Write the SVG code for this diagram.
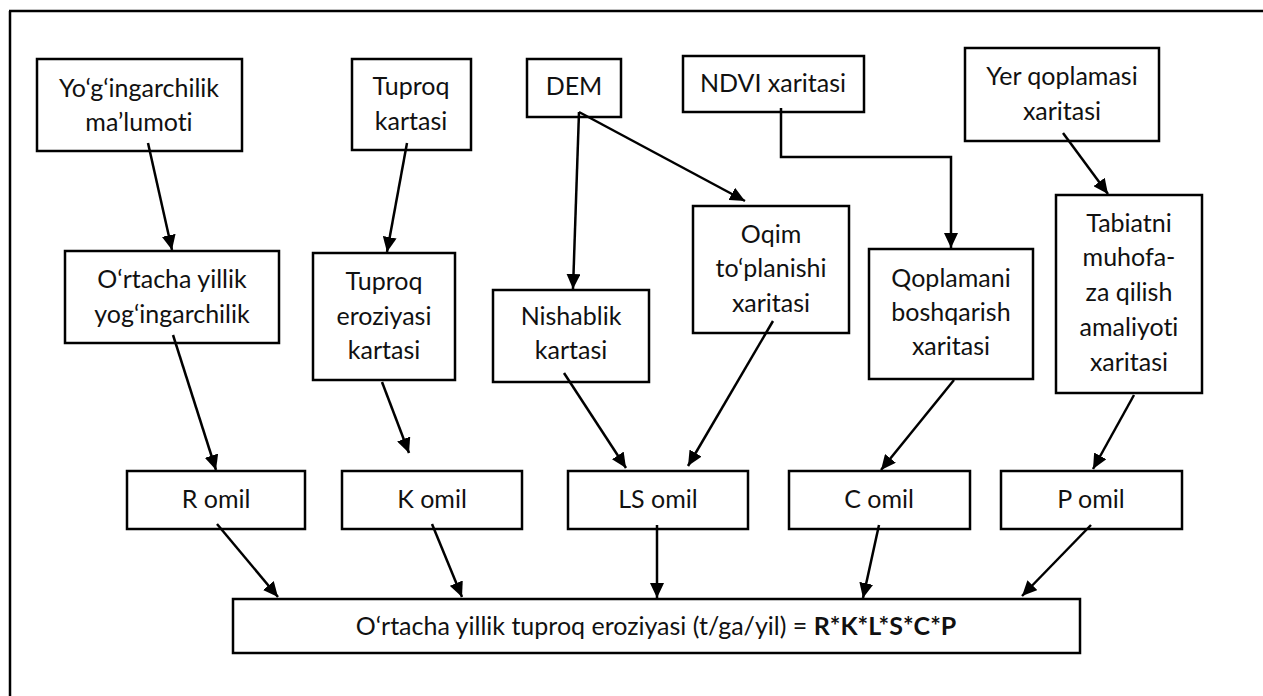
<svg xmlns="http://www.w3.org/2000/svg" width="1263" height="696" viewBox="0 0 1263 696">
<defs>
<marker id="ah" markerUnits="userSpaceOnUse" markerWidth="16" markerHeight="14" refX="15" refY="7" orient="auto">
<path d="M0,0 L15,7 L0,14 z" fill="#000"/>
</marker>
<style>
rect.b{fill:#fff;stroke:#000;stroke-width:2.5}
text{font-family:Lato,"Open Sans","Liberation Sans",sans-serif;font-size:25px;fill:#111;text-anchor:middle;font-variant-ligatures:none;font-feature-settings:"liga" 0}
.c path,.c line,.c polyline{stroke:#000;stroke-width:2.5;fill:none;marker-end:url(#ah)}
</style>
</defs>
<rect width="1263" height="696" fill="#fff"/>
<g id="frame" stroke="#000" stroke-width="2.5" fill="none">
<line x1="9" y1="11" x2="1263" y2="11"/>
<line x1="10" y1="11" x2="10" y2="696"/>
</g>
<g id="n-yog"><rect class="b" x="37" y="59" width="205" height="92"/><text x="139" y="97">Yo‘g‘ingarchilik</text><text x="139" y="131">ma’lumoti</text></g>
<g id="n-tuproq"><rect class="b" x="352" y="59" width="119" height="91"/><text x="411" y="95">Tuproq</text><text x="411" y="130">kartasi</text></g>
<g id="n-dem"><rect class="b" x="527" y="59" width="94" height="58"/><text x="574" y="95">DEM</text></g>
<g id="n-ndvi"><rect class="b" x="683" y="56" width="181" height="56"/><text x="773" y="92">NDVI xaritasi</text></g>
<g id="n-yer"><rect class="b" x="965" y="48" width="194" height="93"/><text x="1062" y="85">Yer qoplamasi</text><text x="1062" y="120">xaritasi</text></g>
<g id="n-ortacha"><rect class="b" x="65" y="251" width="214" height="92"/><text x="172" y="288">O‘rtacha yillik</text><text x="172" y="323">yog‘ingarchilik</text></g>
<g id="n-erozkarta"><rect class="b" x="313" y="253" width="142" height="127"/><text x="384" y="290">Tuproq</text><text x="384" y="325">eroziyasi</text><text x="384" y="359">kartasi</text></g>
<g id="n-nishab"><rect class="b" x="493" y="290" width="156" height="92"/><text x="571" y="325">Nishablik</text><text x="571" y="359">kartasi</text></g>
<g id="n-oqim"><rect class="b" x="693" y="206" width="156" height="127"/><text x="771" y="243">Oqim</text><text x="771" y="277">to‘planishi</text><text x="771" y="312">xaritasi</text></g>
<g id="n-qoplam"><rect class="b" x="869" y="249" width="164" height="130"/><text x="951" y="287">Qoplamani</text><text x="951" y="321">boshqarish</text><text x="951" y="355">xaritasi</text></g>
<g id="n-tabiat"><rect class="b" x="1056" y="195" width="146" height="198"/><text x="1129" y="232">Tabiatni</text><text x="1129" y="266">muhofa-</text><text x="1129" y="301">za qilish</text><text x="1129" y="336">amaliyoti</text><text x="1129" y="371">xaritasi</text></g>
<g id="n-r"><rect class="b" x="127" y="471" width="178" height="58"/><text x="216" y="508">R omil</text></g>
<g id="n-k"><rect class="b" x="342" y="471" width="180" height="58"/><text x="432" y="508">K omil</text></g>
<g id="n-ls"><rect class="b" x="568" y="471" width="180" height="58"/><text x="658" y="508">LS omil</text></g>
<g id="n-c"><rect class="b" x="789" y="471" width="181" height="58"/><text x="879" y="508">C omil</text></g>
<g id="n-p"><rect class="b" x="1001" y="471" width="181" height="58"/><text x="1091" y="508">P omil</text></g>
<g id="n-result"><rect class="b" x="233" y="599" width="847" height="54"/><text x="656" y="635">O‘rtacha yillik tuproq eroziyasi (t/ga/yil) = <tspan font-weight="bold">R*K*L*S*C*P</tspan></text></g>
<g id="connectors" class="c">
<line x1="148" y1="143" x2="172" y2="250"/>
<line x1="407" y1="143" x2="387" y2="252"/>
<line x1="579" y1="112" x2="573" y2="289"/>
<line x1="579" y1="112" x2="745" y2="201"/>
<polyline points="781,108 781,157 951,157 951,248"/>
<line x1="1063" y1="133" x2="1108" y2="194"/>
<line x1="173" y1="335" x2="216" y2="470"/>
<line x1="382" y1="382" x2="409" y2="453"/>
<line x1="564" y1="373" x2="626" y2="468"/>
<line x1="773" y1="321" x2="688" y2="466"/>
<line x1="954" y1="380" x2="881" y2="470"/>
<line x1="1134" y1="395" x2="1093" y2="469"/>
<line x1="217" y1="524" x2="278" y2="597"/>
<line x1="432" y1="524" x2="462" y2="597"/>
<line x1="657" y1="525" x2="657" y2="598"/>
<line x1="879" y1="525" x2="863" y2="598"/>
<line x1="1091" y1="525" x2="1022" y2="596"/>
</g>
</svg>
